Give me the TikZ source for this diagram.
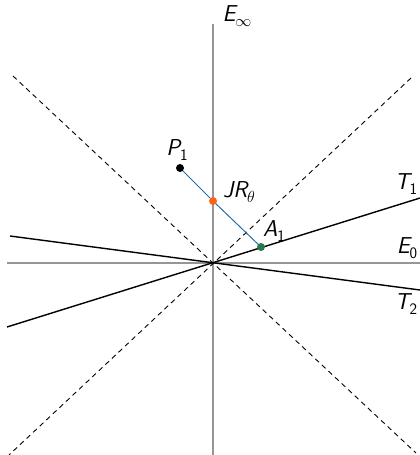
\RequirePackage{fix-cm}
\documentclass[tikz,border=0pt]{standalone}
\usepackage{fontspec}
\newcommand\labsub[1]{\raisebox{-0.22em}{\fontsize{16}{19}\selectfont #1}}
\definecolor{axisgray}{RGB}{150,150,150}
\definecolor{ptorange}{RGB}{255,100,20}
\definecolor{ptgreen}{RGB}{40,120,80}
\definecolor{segblue}{RGB}{40,110,170}
\tikzset{
  axisline/.style={draw=axisgray,line width=1.3pt},
  tline/.style={draw=black,line width=1.4pt},
  dline/.style={draw=black,line width=0.9pt,dash pattern=on 5pt off 4pt},
  lbl/.style={font=\sffamily\itshape\fontsize{23}{27}\selectfont,inner sep=0pt},
  dotpt/.style={circle,inner sep=0pt,minimum size=8pt},
}
\begin{document}
\begin{tikzpicture}[x=1pt,y=-1pt]
\useasboundingbox (0,0) rectangle (420,455);
\coordinate (O) at (213,263);
\coordinate (vtop) at (213,24);
\coordinate (vbot) at (213,455);
\coordinate (hl) at (7,263);
\coordinate (hr) at (420,263);
\coordinate (d1a) at (13,76);
\coordinate (d1b) at (416,453);
\coordinate (d2a) at (411,78);
\coordinate (d2b) at (9,455);
\coordinate (t1a) at (7,327);
\coordinate (t1b) at (420,198);
\coordinate (t2a) at (10,236);
\coordinate (t2b) at (420,290);
% axes
\draw[axisline] (vtop) -- (vbot);
\draw[axisline] (hl) -- (hr);
% dashed diagonals
\draw[dline] (d1a) -- (d1b);
\draw[dline] (d2a) -- (d2b);
% T lines
\draw[tline] (t1a) -- (t1b);
\draw[tline] (t2a) -- (t2b);
% points
\coordinate (P1c) at (180,168);
\coordinate (Jc) at (213,201);
\coordinate (A1c) at (261,247);
\draw[segblue,line width=1pt] (P1c) -- (Jc) -- (A1c);
\node[dotpt,fill=black] (P1) at (P1c) {};
\node[dotpt,fill=ptorange] (J) at (Jc) {};
\node[dotpt,fill=ptgreen] (A1) at (A1c) {};
% labels
\node[lbl] (Einf) at (237,16) {E\labsub{$\infty$}};
\node[lbl] (E0) at (407,248) {E\labsub{\upshape 0}};
\node[lbl] (T1) at (406,184) {T\labsub{\upshape 1}};
\node[lbl] (T2) at (406,304) {T\labsub{\upshape 2}};
\node[lbl] (P1l) at (177,150) {P\labsub{\upshape 1}};
\node[lbl] (Jl) at (239,192) {JR\labsub{$\theta$}};
\node[lbl] (A1l) at (274,231) {A\labsub{\upshape 1}};
\end{tikzpicture}
\end{document}
